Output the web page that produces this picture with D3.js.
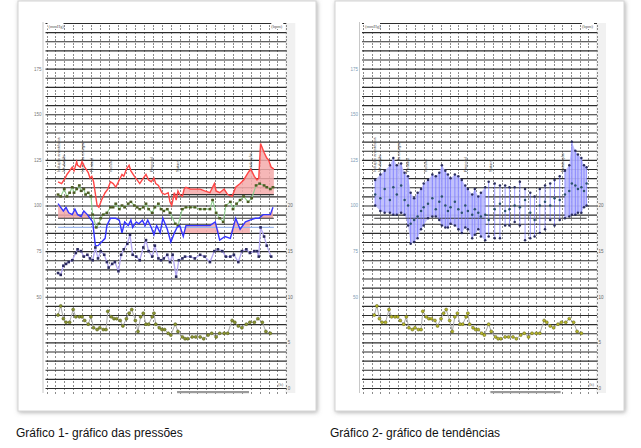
<!DOCTYPE html>
<html><head><meta charset="utf-8">
<script src="https://cdn.jsdelivr.net/npm/d3@7"></script>
<style>body{margin:0;background:#fff}svg{display:block}</style>
</head><body>
<svg id="c" width="641" height="448"></svg>
<script>
// ---------- DATA (time in minutes, values in mmHg / bpm) ----------
const redTime=[13,17,21,23,26,29,31,34,35,38,40,43,47,49,51,53,57,59,62,66,69,72,75,78,82,85,87,90,93,95,99,102,105,109,112,115,118,121,123,126,128,130,133,137,139,141,144,146,148,150,153,155,157,162,167,173,178,184,189,191,195,200,204,209,213,218,222,227,230,234,237,239,241,245,248,250,253,256];
const redValues=[113,112,115,117,119,121,119,124,122,121,124,121,118,115,116,113,100,99,103,107,109,113,112,110,114,117,116,120,122,119,116,114,112,115,117,114,113,115,112,111,109,107,106,107,102,100,107,103,108,106,105,109,110,109,109,109,108,107,112,108,107,109,106,105,110,112,114,118,120,116,114,115,134,129,126,125,121,120];

const greenTime=[13,16,20,23,26,29,31,34,37,39,42,44,47,50,52,56,59,61,64,68,72,75,78,82,85,88,92,95,99,102,105,109,112,115,119,122,126,129,132,136,139,145,148,153,157,162,167,173,178,184,187,191,195,199,202,207,210,214,218,222,227,231,236,240,245,248,252,255];
const greenValues=[106,105,109,105,107,110,107,109,111,108,109,106,107,105,95,88,90,93,95,96,99,99,101,98,100,99,101,102,100,99,98,99,101,98,96,99,101,98,97,98,96,90,89,98,99,99,99,98,98,98,103,96,93,91,100,102,98,101,103,105,102,104,111,112,111,110,109,110];

const blueTime=[13,16,19,22,25,29,32,35,39,42,46,49,52,55,58,62,66,68,72,75,78,82,85,88,92,95,97,101,104,108,111,114,118,121,124,128,131,136,140,144,147,150,154,157,162,173,184,190,195,201,207,213,218,224,229,235,239,244,247,252,255];
const blueValues=[101,99,97,99,96,95,98,95,94,97,95,93,91,78,78,80,82,89,93,93,93,92,85,91,89,92,88,91,90,92,89,92,88,84,89,85,93,87,80,85,88,89,83,89,89,89,89,91,81,83,82,93,87,91,92,93,93,95,95,95,99];

const hrTime=[13,16,19,22,25,29,33,35,39,42,46,49,52,55,58,61,65,68,70,74,77,81,84,87,91,94,97,101,105,109,112,115,119,122,126,129,132,136,139,142,146,149,153,156,162,167,173,178,184,189,193,198,202,207,211,216,220,225,229,234,237,239,241,245,248,253];
const hrValues=[63,62,67,68,69,70,74,76,75,72,73,71,70,77,71,75,73,69,66,68,69,64,73,76,79,84,73,72,70,77,81,75,72,78,71,70,71,73,69,73,61,70,71,72,72,71,73,72,69,75,76,75,72,72,73,69,75,76,74,75,75,72,88,83,78,72];

const lowTime=[13,16,19,22,26,30,33,37,40,43,47,50,53,57,60,64,67,69,73,76,79,83,86,90,93,96,100,103,106,109,112,115,119,121,123,127,130,133,137,140,145,148,153,156,159,164,168,173,177,182,186,191,195,200,204,209,212,216,220,225,229,234,238,243,247,252];
const lowValues=[40,45,38,36,36,43,39,39,39,37,35,39,33,32,33,32,32,42,39,38,38,37,34,38,41,43,37,31,39,41,35,35,39,41,35,33,32,32,30,29,35,31,28,27,27,28,28,28,27,29,30,28,30,30,30,37,36,34,33,35,36,36,38,36,31,30];

// trend chart (band high / low / mean)
const trendTime=[14,20,25,31,35,39,44,48,52,55,59,63,67,70,75,80,84,88,91,95,98,101,106,110,114,118,121,126,129,133,136,141,145,152,158,164,169,175,181,187,193,198,204,210,216,221,227,233,238,241,245,248,252,255,258];
const trendHigh=[114,117,119,122,126,122,123,118,116,107,104,107,109,112,114,117,116,118,122,119,117,115,117,116,114,111,109,106,109,105,107,110,113,112,111,111,110,110,113,109,107,105,109,111,112,114,116,119,122,135,130,128,126,122,121];
const trendLow=[100,97,96,96,95,95,96,95,89,79,80,82,87,89,93,94,94,92,89,88,88,90,89,87,85,88,87,82,84,87,83,81,83,82,82,89,89,91,89,81,82,83,85,87,92,89,92,93,94,95,95,96,96,99,100];
const trendMid=[106,104,109,103,110,106,111,103,100,90,92,94,97,99,101,104,98,102,105,100,97,99,102,98,96,100,97,95,98,96,94,95,92,98,101,97,98,100,99,103,96,92,100,102,100,104,103,106,108,112,111,109,110,108,112];
const trendFilled=[[14,141],[233,258]];

// fills and reference levels
const redFill={from:141,to:256,base:106};
const blueFills=[{from:13,to:52,base:93},{from:148,to:229,base:85},{from:239,to:256,base:93}];
const refLevels=[{value:93,color:"#333"},{value:88,color:"#9cb6ea"}];

// annotations (events)
const annoTime=[13,19,41,51,72,118,147,230];
const annoLabel=["Indução anestésica","Intubação","Início da cirurgia","Fentanil","Incisão","Propofol","Sutura","Extubação"];

// axis labels
const leftTicks=[50,75,100,125,150,175];
const rightTicks=[0,5,10,15,20];
const captions=["Gráfico 1- gráfico das pressões","Gráfico 2- gráfico de tendências"];

// ---------- DRAWING ----------
const svg=d3.select("#c");
const defs=svg.append("defs");
const f=defs.append("filter").attr("id","sh").attr("x","-5%").attr("y","-5%").attr("width","110%").attr("height","110%");
f.append("feDropShadow").attr("dx",1).attr("dy",1).attr("stdDeviation",2).attr("flood-color","#777").attr("flood-opacity",0.6);

const y=d3.scaleLinear().domain([0,200]).range([388,23]);
const yR=d3.scaleLinear().domain([0,40]).range([388,23]);
const x1=d3.scaleLinear().domain([0,270]).range([46.5,286.3]);
const x2=d3.scaleLinear().domain([0,270]).range([363,597]);

[[18,298],[335,289]].forEach(([cx,cw])=>{
  svg.append("rect").attr("x",cx).attr("y",1).attr("width",cw).attr("height",410)
    .attr("fill","#fff").attr("stroke","#d4d4d4").attr("filter","url(#sh)");
});

function grid(x,labelColor){
  const g=svg.append("g");
  const [x0,xe]=x.range();
  g.append("line").attr("x1",x0-3.5).attr("x2",x0-3.5).attr("y1",22).attr("y2",393).attr("stroke","#c8c8c8");
  g.append("rect").attr("x",xe-1).attr("y",23).attr("width",10).attr("height",370).attr("fill","#f1f1f1");
  const vg=g.append("g").attr("transform","translate(0,394)").attr("shape-rendering","crispEdges")
    .call(d3.axisBottom(x).tickValues(d3.range(0,271,10)).tickSize(-371).tickFormat(""));
  vg.select(".domain").remove();
  vg.selectAll("line").attr("stroke","#8c8c8c").attr("stroke-dasharray","2,1.6").attr("stroke-width",1);
  const hg=g.append("g").attr("transform",`translate(${x0-1},0)`)
    .call(d3.axisLeft(y).tickValues(d3.range(0,201,5)).tickSize(-(xe-x0+1)).tickFormat(""));
  hg.select(".domain").remove();
  hg.selectAll("line").attr("stroke","#2c2c2c").attr("stroke-width",1.15);
  const la=g.append("g").attr("transform",`translate(${x0-5},0)`)
    .call(d3.axisLeft(y).tickValues(leftTicks).tickSize(0).tickPadding(0));
  la.select(".domain").remove();
  la.selectAll("text").attr("font-size",4.5).attr("fill",labelColor).attr("font-family","Liberation Sans, Arial");
  const ra=g.append("g").attr("transform",`translate(${xe+1.5},0)`)
    .call(d3.axisRight(yR).tickValues(rightTicks).tickSize(0).tickPadding(0));
  ra.select(".domain").remove();
  ra.selectAll("text").attr("font-size",4.5).attr("fill","#666").attr("font-family","Liberation Sans, Arial");
  g.append("rect").attr("x",x0+1).attr("y",23).attr("width",16).attr("height",6).attr("fill","#fff");
  g.append("text").attr("x",x0+2).attr("y",27.5).attr("font-size",4.5).attr("fill","#555").text("(mmHg)");
  g.append("rect").attr("x",xe-15).attr("y",23).attr("width",12).attr("height",6).attr("fill","#fff");
  g.append("text").attr("x",xe-4).attr("y",27.5).attr("font-size",4.5).attr("fill","#555").attr("text-anchor","end").text("(bpm)");
  g.append("text").attr("x",xe-3).attr("y",386).attr("font-size",4.5).attr("fill","#666").attr("text-anchor","end").text("(h)");
  g.append("rect").attr("x",x(147)).attr("y",391).attr("width",x(228)-x(147)).attr("height",2.2).attr("fill","#9a9a9a");
  annoTime.forEach((t,i)=>{
    g.append("text").attr("transform",`translate(${x(t)+1.5},172) rotate(-90)`)
      .attr("font-size",4).attr("fill","#444").attr("font-family","Liberation Sans, Arial").text(annoLabel[i]);
  });
  return g;
}

function pts(times,vals){return times.map((t,i)=>[t,vals[i]]);}

// ---------- PANEL 1 ----------
grid(x1,"#777");
const p1=svg.append("g");
const line1=d3.line().x(d=>x1(d[0])).y(d=>y(d[1]));
const redPts=pts(redTime,redValues).filter(d=>d[0]>=redFill.from&&d[0]<=redFill.to);
p1.append("path").datum(redPts).attr("fill","#f5aaaa").attr("fill-opacity",0.85)
  .attr("d",d3.area().x(d=>x1(d[0])).y0(y(redFill.base)).y1(d=>y(Math.max(d[1],redFill.base))));
blueFills.forEach(bf=>{
  const bp=pts(blueTime,blueValues).filter(d=>d[0]>=bf.from&&d[0]<=bf.to);
  p1.append("path").datum(bp).attr("fill","#f5aaaa").attr("fill-opacity",0.85)
    .attr("d",d3.area().x(d=>x1(d[0])).y0(y(bf.base)).y1(d=>y(Math.max(d[1],bf.base))));
});
p1.append("line").attr("x1",x1(redFill.from)).attr("x2",x1(redFill.to)).attr("y1",y(redFill.base)).attr("y2",y(redFill.base)).attr("stroke","#333").attr("stroke-width",1.2);
refLevels.forEach(r=>{
  p1.append("line").attr("x1",x1(13)).attr("x2",x1(256)).attr("y1",y(r.value)).attr("y2",y(r.value)).attr("stroke",r.color).attr("stroke-width",1.1);
});
p1.append("path").datum(pts(redTime,redValues)).attr("fill","none").attr("stroke","#ff4545").attr("stroke-width",1.4).attr("d",line1);
p1.append("path").datum(pts(greenTime,greenValues)).attr("fill","none").attr("stroke","#8fcf8f").attr("stroke-width",1.1).attr("d",line1);
p1.selectAll(".gm").data(pts(greenTime,greenValues)).join("rect").attr("class","gm")
  .attr("x",d=>x1(d[0])-1.4).attr("y",d=>y(d[1])-1.2).attr("width",2.8).attr("height",2.4).attr("fill","#4d5a22");
p1.append("path").datum(pts(blueTime,blueValues)).attr("fill","none").attr("stroke","#3535ff").attr("stroke-width",1.4).attr("d",line1);
p1.append("path").datum(pts(hrTime,hrValues)).attr("fill","none").attr("stroke","#b4a8f2").attr("stroke-width",1.3).attr("d",line1);
p1.selectAll(".hm").data(pts(hrTime,hrValues)).join("rect").attr("class","hm")
  .attr("x",d=>x1(d[0])-1.3).attr("y",d=>y(d[1])-1.3).attr("width",2.6).attr("height",2.6).attr("fill","#2b2b5e");
p1.append("path").datum(pts(lowTime,lowValues)).attr("fill","none").attr("stroke","#a8a8a8").attr("stroke-width",1).attr("d",line1);
p1.selectAll(".lm").data(pts(lowTime,lowValues)).join("circle").attr("class","lm")
  .attr("cx",d=>x1(d[0])).attr("cy",d=>y(d[1])).attr("r",1.5).attr("fill","#8c9630").attr("stroke","#4a5214").attr("stroke-width",0.5);

// ---------- PANEL 2 ----------
grid(x2,"#7d9ab5");
const p2=svg.append("g");
const tr=trendTime.map((t,i)=>({t,h:trendHigh[i],l:trendLow[i],m:trendMid[i]}));
trendFilled.forEach(([a,b])=>{
  p2.append("path").datum(tr.filter(d=>d.t>=a&&d.t<=b)).attr("fill","#bcbcfc").attr("fill-opacity",0.92)
    .attr("d",d3.area().x(d=>x2(d.t)).y0(d=>y(d.l)).y1(d=>y(d.h)));
});
p2.append("line").attr("x1",x2(13)).attr("x2",x2(258)).attr("y1",y(93)).attr("y2",y(93)).attr("stroke","#333").attr("stroke-width",1.1);
p2.selectAll(".vl").data(tr).join("line").attr("class","vl")
  .attr("x1",d=>x2(d.t)).attr("x2",d=>x2(d.t)).attr("y1",d=>y(d.l)).attr("y2",d=>y(d.h))
  .attr("stroke","#6f6fff").attr("stroke-opacity",0.75).attr("stroke-width",0.9);
["h","l","m"].forEach(k=>{
  p2.selectAll(".mk"+k).data(tr).join("circle").attr("class","mk"+k)
    .attr("cx",d=>x2(d.t)).attr("cy",d=>y(d[k])).attr("r",1.25).attr("fill",k==="m"?"#2a5070":"#2a2e60");
});
const line2=d3.line().x(d=>x2(d[0])).y(d=>y(d[1]));
p2.append("path").datum(pts(lowTime,lowValues)).attr("fill","none").attr("stroke","#a8a8a8").attr("stroke-width",1).attr("d",line2);
p2.selectAll(".lm2").data(pts(lowTime,lowValues)).join("circle").attr("class","lm2")
  .attr("cx",d=>x2(d[0])).attr("cy",d=>y(d[1])).attr("r",1.5).attr("fill","#b8b828").attr("stroke","#5a5a14").attr("stroke-width",0.5);

svg.append("text").attr("x",16).attr("y",437).attr("font-size",12).attr("font-family","Liberation Sans, Arial").attr("fill","#111").text(captions[0]);
svg.append("text").attr("x",330).attr("y",437).attr("font-size",12).attr("font-family","Liberation Sans, Arial").attr("fill","#111").text(captions[1]);
</script>
</body></html>
